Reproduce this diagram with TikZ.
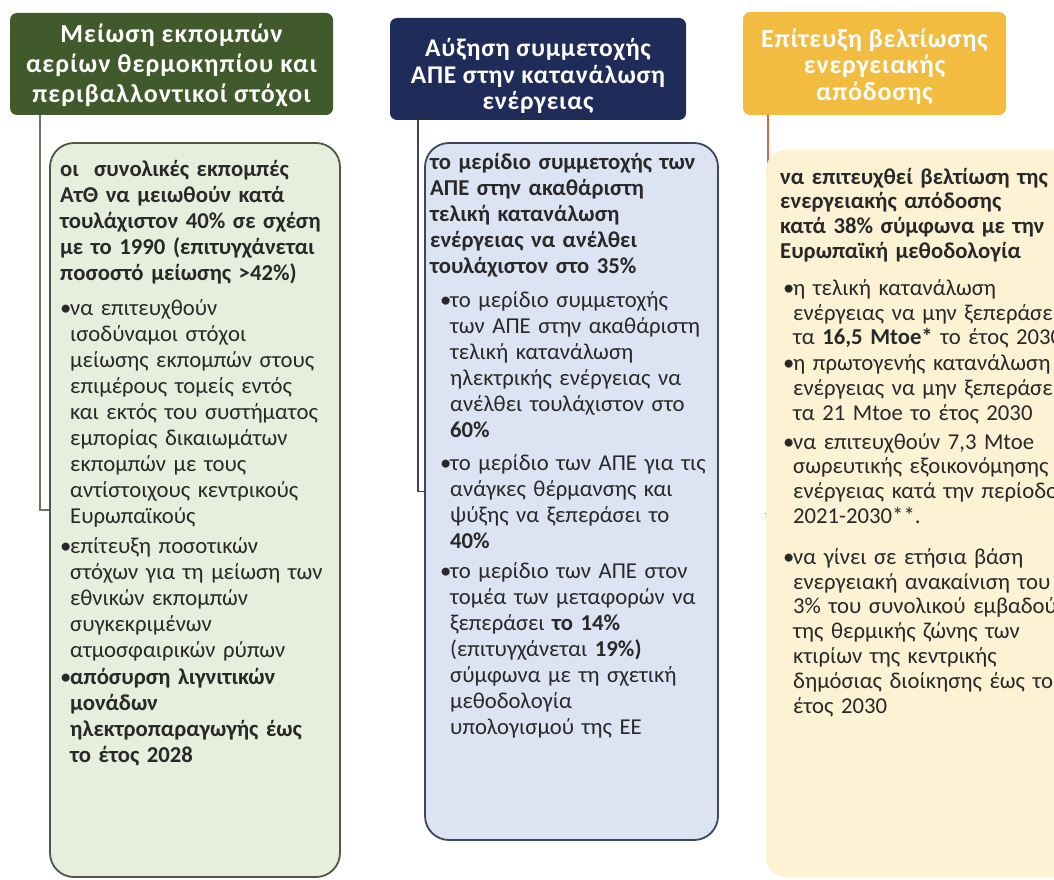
\documentclass[tikz,border=0pt]{standalone}
\usepackage{fontspec}
\setmainfont{Carlito}
\usetikzlibrary{backgrounds}
\definecolor{hgreen}{HTML}{405A2B}
\definecolor{bgreen}{HTML}{E6EEDD}
\definecolor{lgreen}{HTML}{4F5742}
\definecolor{cgreen}{HTML}{6E7264}
\definecolor{hblue}{HTML}{1F2C5A}
\definecolor{bblue}{HTML}{DCE3F2}
\definecolor{lblue}{HTML}{3E4560}
\definecolor{hgold}{HTML}{F2BC41}
\definecolor{bgold}{HTML}{FDF2D4}
\definecolor{lgold}{HTML}{D56A45}
\definecolor{txtc}{HTML}{282828}
\newcommand{\bodysizeA}{\fontsize{22.7}{26}\selectfont}
\newcommand{\bodysizeB}{\fontsize{22.7}{24.8}\selectfont}
\newcommand{\bitem}[3][0pt]{\par\vspace{#2}\noindent\hangindent=\dimexpr#1+10pt\relax\hangafter=1\hspace*{#1}\makebox[10pt][l]{•}#3\par}
\tikzset{
  hdr/.style={rectangle, rounded corners=7pt, inner sep=0pt},
  hdrtxt/.style={inner sep=0pt, text=white, align=center},
  bodybox/.style={rectangle, rounded corners=24pt, inner sep=0pt, line width=1.8pt},
  bodytxt/.style={anchor=north west, inner sep=0pt, text width=330pt, align=left, text=txtc},
  conn/.style={line width=1.6pt}
}
\begin{document}
\begin{tikzpicture}[x=1pt,y=-1pt]
\useasboundingbox (0,0) rectangle (1054,880);
\clip (0,0) rectangle (1054,880);

% headers
\node[hdr, fill=hgreen, minimum width=323pt, minimum height=102pt] (h1) at (171.5,64) {};
\node[hdr, fill=hblue, minimum width=296pt, minimum height=102pt] (h2) at (538,69) {};
\node[hdr, fill=hgold, minimum width=263pt, minimum height=103pt] (h3) at (874.5,63.5) {};
\node[hdrtxt, font=\fontsize{26}{30}\selectfont\bfseries\addfontfeature{LetterSpace=4}] (h1t) at ([yshift=-1pt]h1.center)
  {Μείωση εκπομπών\\αερίων θερμοκηπίου και\\περιβαλλοντικοί στόχοι};
\node[hdrtxt, font=\fontsize{25.5}{26.5}\selectfont\bfseries\addfontfeature{LetterSpace=3}] (h2t) at ([yshift=-7pt]h2.center)
  {Αύξηση συμμετοχής\\ΑΠΕ στην κατανάλωση\\ενέργειας};
\node[hdrtxt, font=\fontsize{26}{26.5}\selectfont\bfseries\addfontfeature{LetterSpace=3}] (h3t) at ([yshift=-3pt]h3.center)
  {Επίτευξη βελτίωσης\\ενεργειακής\\απόδοσης};

% bodies
\node[bodybox, draw=lgreen, fill=bgreen, minimum width=290pt, minimum height=734pt] (b1) at (195,510) {};
\node[bodybox, draw=lblue, fill=bblue, minimum width=293pt, minimum height=697pt] (b2) at (571.5,491.5) {};
\node[bodybox, fill=bgold, rounded corners=20pt, minimum width=309pt, minimum height=727pt] (b3) at (920.5,513.5) {};

% connectors (behind the bodies)
\begin{scope}[on background layer]
\fill[white] (0,0) rectangle (1054,880);
\draw[conn, draw=cgreen] ([xshift=-131.5pt]h1.south) |- (b1.west);
\draw[conn, draw=lblue] ([xshift=-120pt]h2.south) |- (b2.west);
\draw[conn, draw=lgold] ([xshift=-106.5pt]h3.south) |- (b3.west);
\end{scope}

% texts
\node[bodytxt, font=\bodysizeA] (t1) at (60,158) {%
\strut\textbf{οι\ \ συνολικές εκπομπές\newline ΑτΘ να μειωθούν κατά\newline τουλάχιστον 40\% σε σχέση\newline με το 1990 (επιτυγχάνεται\newline ποσοστό μείωσης >42\%)}\par
\bitem{9pt}{να επιτευχθούν\newline ισοδύναμοι στόχοι\newline μείωσης εκπομπών στους\newline επιμέρους τομείς εντός\newline και εκτός του συστήματος\newline εμπορίας δικαιωμάτων\newline εκπομπών με τους\newline αντίστοιχους κεντρικούς\newline Ευρωπαϊκούς}
\bitem{4pt}{επίτευξη ποσοτικών\newline στόχων για τη μείωση των\newline εθνικών εκπομπών\newline συγκεκριμένων\newline ατμοσφαιρικών ρύπων}
\bitem{1pt}{\textbf{απόσυρση λιγνιτικών\newline μονάδων\newline ηλεκτροπαραγωγής έως\newline το έτος 2028}}};

\node[bodytxt, font=\bodysizeA] (t2) at (430,151) {%
\strut\textbf{το μερίδιο συμμετοχής των\newline ΑΠΕ στην ακαθάριστη\newline τελική κατανάλωση\newline ενέργειας να ανέλθει\newline τουλάχιστον στο 35\%}\par
\bitem[10pt]{8pt}{το μερίδιο συμμετοχής\newline των ΑΠΕ στην ακαθάριστη\newline τελική κατανάλωση\newline ηλεκτρικής ενέργειας να\newline ανέλθει τουλάχιστον στο\newline \textbf{60\%}}
\bitem[10pt]{7pt}{το μερίδιο των ΑΠΕ για τις\newline ανάγκες θέρμανσης και\newline ψύξης να ξεπεράσει το\newline \textbf{40\%}}
\bitem[10pt]{4pt}{το μερίδιο των ΑΠΕ στον\newline τομέα των μεταφορών να\newline ξεπεράσει \textbf{το 14\%}\newline (επιτυγχάνεται \textbf{19\%)}\newline σύμφωνα με τη σχετική\newline μεθοδολογία\newline υπολογισμού της ΕΕ}};

\node[bodytxt, font=\bodysizeB] (t3) at (780,166.5) {%
\strut\textbf{να επιτευχθεί βελτίωση της\newline ενεργειακής απόδοσης\newline κατά 38\% σύμφωνα με την\newline Ευρωπαϊκή μεθοδολογία}\par
\bitem[3pt]{12pt}{η τελική κατανάλωση\newline ενέργειας να μην ξεπεράσει\newline τα \textbf{16,5 Mtoe*} το έτος 2030}
\bitem[3pt]{1pt}{η πρωτογενής κατανάλωση\newline ενέργειας να μην ξεπεράσει\newline τα 21 Mtoe το έτος 2030}
\bitem[3pt]{4pt}{να επιτευχθούν 7,3 Mtoe\newline σωρευτικής εξοικονόμησης\newline ενέργειας κατά την περίοδο\newline 2021-2030**.}
\bitem[3pt]{16pt}{να γίνει σε ετήσια βάση\newline ενεργειακή ανακαίνιση του\newline 3\% του συνολικού εμβαδού\newline της θερμικής ζώνης των\newline κτιρίων της κεντρικής\newline δημόσιας διοίκησης έως το\newline έτος 2030}};
\end{tikzpicture}
\end{document}
